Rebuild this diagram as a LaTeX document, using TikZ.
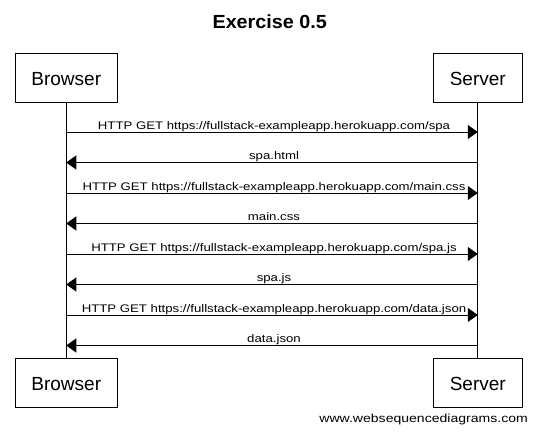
\documentclass[tikz,border=0pt]{standalone}
\usepackage{fontspec}
\setmainfont{Liberation Sans}
\newfontfamily\lblfont[FakeStretch=1.2]{Liberation Sans}
\newfontfamily\ttlfont[FakeStretch=1.04]{Liberation Sans}
\usetikzlibrary{arrows.meta}
\tikzset{
  actor/.style={draw, line width=1pt, minimum height=49pt, inner sep=0pt, font=\fontsize{19}{19}\selectfont},
  life/.style={line width=1pt},
  msg/.style={line width=1pt, -{Triangle[length=10pt,width=14pt]}},
  lbl/.style={anchor=base, yshift=3pt, xshift=2pt, inner sep=0pt, font=\lblfont\fontsize{11}{11}\selectfont},
}
\begin{document}
\begin{tikzpicture}[x=1pt,y=-1pt]
\useasboundingbox (0,0) rectangle (537,432);
\fill[white] (0,0) rectangle (537,432);
\node[font=\ttlfont\bfseries\fontsize{19}{19}\selectfont, anchor=base, inner sep=0pt] (title) at (269.7,28.3) {Exercise 0.5};
% top actors
\node[actor, minimum width=101.5pt] (bt) at (66.25,77.5) {};
\node[actor, minimum width=89.5pt] (st) at (477.75,77.5) {};
\node[anchor=base, inner sep=0pt, font=\fontsize{19}{19}\selectfont] (btl) at (66.25,85) {Browser};
\node[anchor=base, inner sep=0pt, font=\fontsize{19}{19}\selectfont] (stl) at (477.75,85) {Server};
% bottom actors
\node[actor, minimum width=101.5pt] (bb) at (66.25,382.5) {};
\node[actor, minimum width=89.5pt] (sb) at (477.75,382.5) {};
\node[anchor=base, inner sep=0pt, font=\fontsize{19}{19}\selectfont] (bbl) at (66.25,390) {Browser};
\node[anchor=base, inner sep=0pt, font=\fontsize{19}{19}\selectfont] (sbl) at (477.75,390) {Server};
% lifelines
\draw[life] (bt.south) -- (bb.north);
\draw[life] (st.south) -- (sb.north);
% message points
\foreach \i/\y in {1/132,2/162.5,3/193,4/223.5,5/254,6/284.5,7/315,8/345.5}{
  \coordinate (b\i) at (66.25,\y);
  \coordinate (s\i) at (477.75,\y);
}
\draw[msg] (b1) -- node[lbl]{HTTP GET https://fullstack-exampleapp.herokuapp.com/spa} (s1);
\draw[msg] (s2) -- node[lbl]{spa.html} (b2);
\draw[msg] (b3) -- node[lbl]{HTTP GET https://fullstack-exampleapp.herokuapp.com/main.css} (s3);
\draw[msg] (s4) -- node[lbl]{main.css} (b4);
\draw[msg] (b5) -- node[lbl]{HTTP GET https://fullstack-exampleapp.herokuapp.com/spa.js} (s5);
\draw[msg] (s6) -- node[lbl]{spa.js} (b6);
\draw[msg] (b7) -- node[lbl]{HTTP GET https://fullstack-exampleapp.herokuapp.com/data.json} (s7);
\draw[msg] (s8) -- node[lbl]{data.json} (b8);
% watermark
\node[anchor=base east, inner sep=0pt, font=\lblfont\fontsize{11.7}{11.7}\selectfont] (wm) at (528,422) {www.websequencediagrams.com};
\end{tikzpicture}
\end{document}
